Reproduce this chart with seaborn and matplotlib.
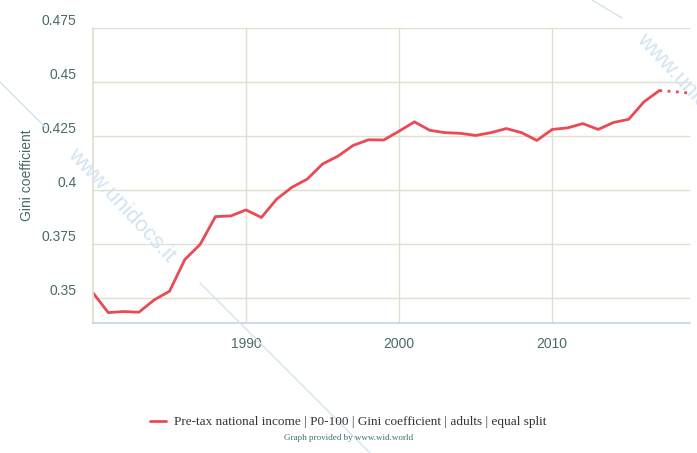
import matplotlib
matplotlib.use('Agg')
import matplotlib.pyplot as plt
from matplotlib.lines import Line2D
import pandas as pd
import seaborn as sns

years = [1980, 1981, 1982, 1983, 1984, 1985, 1986, 1987, 1988, 1989,
         1990, 1991, 1992, 1993, 1994, 1995, 1996, 1997, 1998, 1999,
         2000, 2001, 2002, 2003, 2004, 2005, 2006, 2007, 2008, 2009,
         2010, 2011, 2012, 2013, 2014, 2015, 2016, 2017, 2018, 2019]
gini = [0.3523, 0.3431, 0.3436, 0.3433, 0.3490, 0.3530, 0.3677, 0.3747, 0.3876, 0.3879,
        0.3907, 0.3872, 0.3957, 0.4012, 0.4050, 0.4120, 0.4156, 0.4206, 0.4232, 0.4231,
        0.4272, 0.4315, 0.4276, 0.4265, 0.4262, 0.4252, 0.4265, 0.4284, 0.4265, 0.4229,
        0.4280, 0.4287, 0.4307, 0.4280, 0.4312, 0.4327, 0.4408, 0.4460, 0.4455, 0.4448]
last_actual = 2017

y_ticks = [0.35, 0.375, 0.4, 0.425, 0.45, 0.475]
y_labels = ['0.35', '0.375', '0.4', '0.425', '0.45', '0.475']
x_ticks = [1990, 2000, 2010]
series_name = 'Pre-tax national income | P0-100 | Gini coefficient | adults | equal split'

line_color = '#ea4a53'
grid_color = '#e0e0d0'
text_color = '#4a6a6a'

sns.set_theme(style='white')
plt.rcParams['font.family'] = ['Liberation Sans', 'DejaVu Sans']

df = pd.DataFrame({'Year': years, 'Gini': gini})
solid = df[df['Year'] <= last_actual]
dotted = df[df['Year'] >= last_actual]

fig = plt.figure(figsize=(6.97, 4.53), dpi=100)
ax = fig.add_axes([0.1334, 0.287, 0.8565, 0.6512])

sns.lineplot(data=solid, x='Year', y='Gini', color=line_color, linewidth=2.0, ax=ax)
sns.lineplot(data=dotted, x='Year', y='Gini', color=line_color, linewidth=2.0,
             linestyle=(0, (1, 2)), ax=ax)

ax.set_xlim(1980, 2019)
ax.set_ylim(0.3383, 0.475)
ax.set_yticks(y_ticks)
ax.set_yticklabels(y_labels)
ax.set_xticks(x_ticks)
ax.grid(True, color=grid_color, linewidth=1.0)
ax.set_axisbelow(True)

for side in ['top', 'right']:
    ax.spines[side].set_visible(False)
ax.spines['left'].set_color(grid_color)
ax.spines['bottom'].set_color('#c8d4e8')

ax.tick_params(axis='y', length=0, pad=12, labelsize=10, labelcolor=text_color)
ax.tick_params(axis='x', length=5, width=1, color='#c8d4e8', pad=5,
               labelsize=10, labelcolor=text_color)
for lab in ax.get_yticklabels():
    lab.set_verticalalignment('bottom')

ax.set_xlabel('')
ax.set_ylabel('Gini coefficient', fontsize=10, color=text_color, labelpad=5)

handle = Line2D([], [], color=line_color, linewidth=2.0)
leg = fig.legend([handle], [series_name], loc='center', bbox_to_anchor=(0.5, 0.068),
                 frameon=False, handlelength=1.2, handletextpad=0.6,
                 prop={'family': 'Liberation Serif', 'size': 9.5})
for t in leg.get_texts():
    t.set_color('#333333')

fig.text(0.5, 0.033, 'Graph provided by www.wid.world', ha='center', va='center',
         family='Liberation Serif', fontsize=6.5, color='#3f6e6e')

# watermark
wm = '#d3e3f2'
fig.text(0.174, 0.548, 'www.unidocs.it', rotation=-47, ha='center', va='center',
         fontsize=16, color=wm)
fig.text(0.99, 0.80, 'www.unidocs.it', rotation=-47, ha='center', va='center',
         fontsize=16, color=wm)
fig.add_artist(Line2D([0.0, 0.066], [1 - 82 / 453, 1 - 128 / 453], color=wm, linewidth=1))
fig.add_artist(Line2D([200 / 697, 370 / 697], [1 - 283 / 453, 0.0], color=wm, linewidth=1))
fig.add_artist(Line2D([592 / 697, 622 / 697], [1.0, 1 - 18 / 453], color=wm, linewidth=1))

plt.savefig('out.png', dpi=100)
